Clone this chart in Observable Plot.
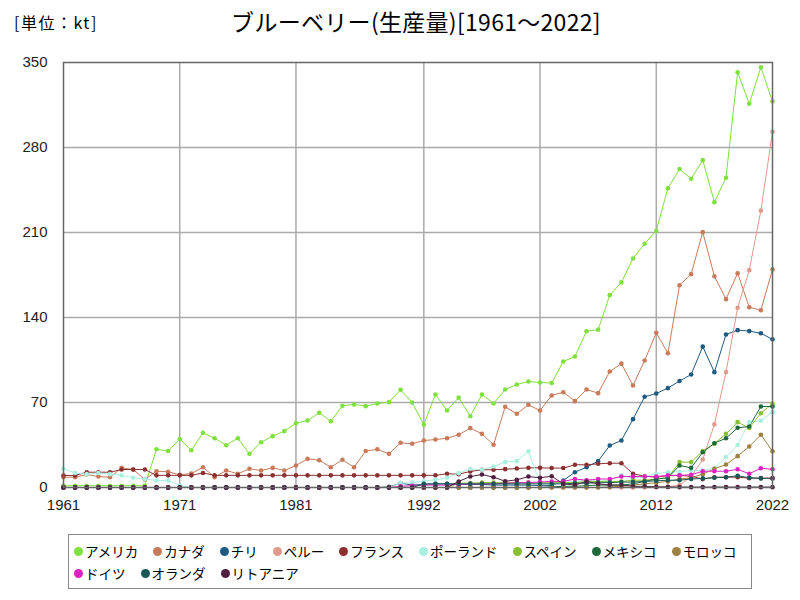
<!DOCTYPE html>
<html><head><meta charset="utf-8">
<script src="https://cdn.jsdelivr.net/npm/d3@7"></script>
<script src="https://cdn.jsdelivr.net/npm/@observablehq/plot@0.6"></script>
<style>
body{margin:0;background:#fff;font-family:"Noto Sans CJK JP",sans-serif;}
#wrap{position:relative;width:800px;height:600px;overflow:hidden;}
#title{position:absolute;top:4px;left:0;width:800px;text-align:center;font-size:23px;padding-left:32px;box-sizing:border-box;letter-spacing:0.3px;}
#unit{position:absolute;top:10px;left:14px;font-size:16px;letter-spacing:1.5px;}
#chart{position:absolute;top:0;left:0;}
#legend{position:absolute;left:68px;top:534px;width:684px;height:55px;border:1.5px solid #888;box-sizing:border-box;font-size:13.5px;padding:5px 0 0 5px;}
.row{display:flex;gap:15px;height:22px;align-items:center;}
.item{display:flex;align-items:center;white-space:nowrap;}
.dot{display:inline-block;width:9px;height:9px;border-radius:50%;margin-right:2px;}
</style></head>
<body><div id="wrap">
<div id="unit">[単位：kt]</div>
<div id="title">ブルーベリー(生産量)[1961～2022]</div>
<div id="chart"></div>
<div id="legend"></div>
</div>
<script>
const years = d3.range(1961, 2023);
const names = ["アメリカ","カナダ","チリ","ペルー","フランス","ポーランド","スペイン","メキシコ","モロッコ","ドイツ","オランダ","リトアニア"];
const colors = ["#80e040","#c87a5a","#1f5a80","#e09a8a","#8b3030","#aaf0e0","#88c030","#1f6a3a","#a08040","#e020c0","#1a5858","#502040"];

const usa = [1.5,1.5,1.5,1.5,1.5,1.5,1.5,1.5,31.5,30,39.8,30.7,45,40.6,34.8,40.6,27.7,37.3,42.3,46.4,53,55.2,61.5,54.6,67.3,68.4,67,69.2,70.3,80.5,70,51.6,76.6,63.4,74,58.7,76.6,69.2,80.7,84.8,87.3,86.5,86,103.8,107.9,128.7,130,158.4,168.9,188.6,200.7,211.5,246.5,262.2,254.3,269.6,235,255.1,342,316,346,318];
const canada = [8.5,8.5,10.7,9,8.5,16.2,14.8,6.6,13.4,13,10.4,11.5,16.7,8.5,14,11.3,15.4,14,16.2,14,18.1,23.6,22.5,16.7,22.8,16.7,30,31.5,27.7,36.8,36,38.7,39.5,40.6,43.4,48.9,44.2,35.2,66.5,60.7,68.1,63.4,75.8,78.5,71.1,80.7,77.7,95.5,102,84,104.6,127.4,110.6,166.6,175.7,210.3,174,155.1,176.5,148.5,146,179.6];
const chile = [0,0,0,0,0,0,0,0,0,0,0,0,0,0,0,0,0,0,0,0,0,0,0,0,0,0,0,0,0.5,3.6,2,2.5,3,3,2.5,2.5,2.5,2,2,2,2,1.5,1.6,5.8,12.6,16.7,21.7,34.6,38.7,56.3,74.7,77.4,81.8,87.7,93,116,95,126,129.6,128.8,127,122];
const peru = [0,0,0,0,0,0,0,0,0,0,0,0,0,0,0,0,0,0,0,0,0,0,0,0,0,0,0,0,0,0,0,0,0,0,0,0,0,0,0,0,0,0,0,0,0,0,0,0,0,0,0,0.3,0.5,2,9,23,52,95,148,179,228,293];
const france = [9.9,9.9,12.6,12.6,12.6,14.8,14.8,14.8,10,10,10,10,12,10,10,10,10,10,10,10,10,10,10,10,10,10,10,10,10,10,10,10,10,11.3,11,13.2,14.6,14.6,15.1,15.6,16.2,16.2,16,16,18.7,18.7,19.5,20,20,11.3,9.3,8.5,9.9,9.9,9.3,6.9,8.5,8.5,8.5,7.7,7.7,7.7];
const poland = [15.4,12,11,12,11,10,8,7,5.8,5.8,1.6,0,0,0,0,0,0,0,0,0,0,0,0,0,0,0,0,0,0,3.6,4,5.2,6.3,8,11.8,15.4,14.6,17.3,20.9,21.7,29.9,3,3,4,5,6,5,6,10,8,9,11.3,12.6,13,14,14,16,25,35,54,55,62];
const spain = [0,0,0,0,0,0,0,0,0,0,0,0,0,0,0,0,0,0,0,0,0,0,0,0,0,0,0,0,0,0,0,0,0,0,3.6,3.6,4,4,4,4,4,4,4,4,4,5,5,5,5,6,6,7,8,20.9,20.9,30,36,44.2,53.8,49,61.2,69];
const mexico = [0,0,0,0,0,0,0,0,0,0,0,0,0,0,0,0,0,0,0,0,0,0,0,0,0,0,0,0,0,0,0,0,0,0,0,0,0,0,0,0,0,0,0.5,1,1,1.5,2,2,2,3,5,7,8,18.1,16.2,29,36.5,40.6,49.2,50.2,66.7,66.7];
const morocco = [0,0,0,0,0,0,0,0,0,0,0,0,0,0,0,0,0,0,0,0,0,0,0,0,0,0,0,0,0,0,0,0,0,0,0,0,0,0,0,0,0,0,0,0,0,0,0,0.5,1,2,3,4,5,7,8,11,15.4,18.9,25.8,33.8,43.4,29.9];
const germany = [0,0,0,0,0,0,0,0,0,0,0,0,0,0,0,0,0,0,0,0,0,0,0,0,0,0,0,0,0,1,1.5,2,2,2,2.5,3,3,3,3.5,4,4,4.5,5,5,7,6,7,7,9,9,9,9,10,10,10.5,13.4,13.4,13.4,15,11.3,15.9,15];
const netherlands = [0,0,0,0,0,0,0,0,0,0,0,0,0,0,0,0,0,0,0,0,0,0,0,0,0,0,0,0,0,0,0,3,3,3,3,3,3,3,3,3,3,3,3,3,3.5,3.5,4,4,4.5,4.5,5,5.5,6,6,7,7.5,8,8.5,9.7,8,7.5,7.5];
const lithuania = [0,0,0,0,0,0,0,0,0,0,0,0,0,0,0,0,0,0,0,0,0,0,0,0,0,0,0,0,0,0,0,0,0,0,5,9,10.7,8.5,5.2,6.3,9,8,9.3,3,2,5,3,2,2,1,1,0.5,0.5,0.3,0.3,0.3,0.3,0.3,0.3,0.3,0.3,0.3];

const seriesValues = [usa,canada,chile,peru,france,poland,spain,mexico,morocco,germany,netherlands,lithuania];
const xTicks = [1961,1971,1981,1992,2002,2012,2022];
const yTicks = [0,70,140,210,280,350];

const rows = seriesValues.flatMap((vals, i) => vals.map((v, j) => ({name: names[i], year: years[j], value: v})));

const chart = Plot.plot({
  width: 800, height: 530,
  marginTop: 62, marginBottom: 43, marginLeft: 63, marginRight: 28,
  style: {fontFamily: "'Liberation Sans', sans-serif", fontSize: "15px", color: "#222", background: "transparent"},
  x: {domain: [1961, 2022], label: null},
  y: {domain: [0, 350], label: null},
  color: {domain: names, range: colors},
  marks: [
    Plot.gridX(xTicks.slice(1, -1), {stroke: "#aaa", strokeOpacity: 1, strokeWidth: 1.5}),
    Plot.gridY(yTicks.slice(1, -1), {stroke: "#aaa", strokeOpacity: 1, strokeWidth: 1.5}),
    Plot.axisX(xTicks, {tickSize: 0, tickPadding: 12, tickFormat: d => String(d), fontSize: 15}),
    Plot.axisY(yTicks, {tickSize: 0, tickPadding: 16, fontSize: 15}),
    Plot.line(rows, {x: "year", y: "value", z: "name", stroke: "name", strokeWidth: 1}),
    Plot.dot(rows, {x: "year", y: "value", fill: "name", r: 2.3}),
    Plot.frame({stroke: "#666", strokeWidth: 1.5})
  ]
});
document.getElementById("chart").appendChild(chart);

const legend = document.getElementById("legend");
[names.slice(0, 9), names.slice(9)].forEach(group => {
  const row = document.createElement("div");
  row.className = "row";
  group.forEach(n => {
    const it = document.createElement("span");
    it.className = "item";
    it.innerHTML = `<span class="dot" style="background:${colors[names.indexOf(n)]}"></span>${n}`;
    row.appendChild(it);
  });
  legend.appendChild(row);
});
</script>
</body></html>
